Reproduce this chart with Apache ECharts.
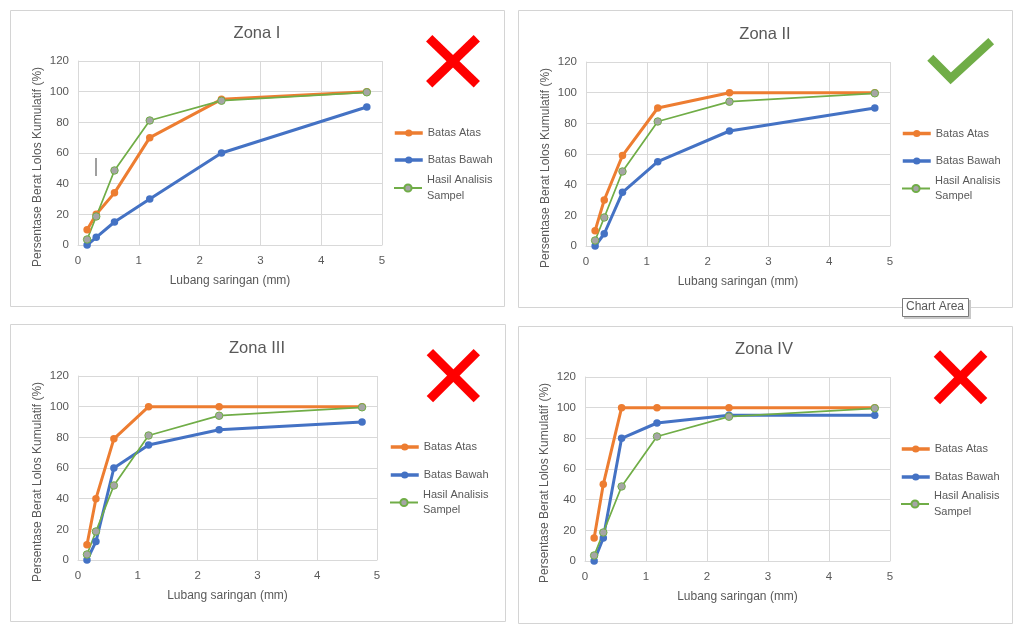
<!DOCTYPE html>
<html>
<head>
<meta charset="utf-8">
<script src="https://cdn.jsdelivr.net/npm/echarts@6/dist/echarts.min.js"></script>
<style>
html,body{margin:0;padding:0;background:#fff;}
#chart{width:1024px;height:632px;}
</style>
</head>
<body>
<div id="chart"></div>
<script>
// ---- data ----
var sieveSizes = [0.15, 0.3, 0.6, 1.18, 2.36, 4.75];
var zoneTitles = ['Zona I', 'Zona II', 'Zona III', 'Zona IV'];
var seriesNames = ['Batas Atas', 'Batas Bawah', 'Hasil Analisis Sampel'];
var zone1Upper = [10, 20, 34, 70, 95, 100];
var zone1Lower = [0, 5, 15, 30, 60, 90];
var zone2Upper = [10, 30, 59, 90, 100, 100];
var zone2Lower = [0, 8, 35, 55, 75, 90];
var zone3Upper = [10, 40, 79, 100, 100, 100];
var zone3Lower = [0, 12, 60, 75, 85, 90];
var zone4Upper = [15, 50, 100, 100, 100, 100];
var zone4Lower = [0, 15, 80, 90, 95, 95];
var sampleValues = [3.6, 18.6, 48.6, 81.2, 94.1, 99.6];
var xTicks = { min: 0, max: 5, interval: 1 };
var yTicks = { min: 0, max: 120, interval: 20 };
var xAxisTitle = 'Lubang saringan (mm)';
var yAxisTitle = 'Persentase Berat Lolos Kumulatif (%)';
var verdicts = ['wrong', 'right', 'wrong', 'wrong'];

// ---- layout / style ----
var FONT = 'Liberation Sans, Arial, sans-serif';
var TXT = '#595959';
var GRIDC = '#D9D9D9';
var panels = [
  { box: [10.5, 10.5, 494, 296], grid: [78, 61, 304, 184], title: [257, 33], leg: [393, 133, 160, 188], mark: [426, 35, 480, 87.5] },
  { box: [518.5, 10.5, 494, 297], grid: [586, 62, 304, 184], title: [765, 34], leg: [901, 133.5, 161, 188.5], mark: null },
  { box: [10.5, 324.5, 495, 297], grid: [78, 376, 299, 184], title: [257, 348], leg: [389, 447, 475, 502.5], mark: [426.7, 349, 480, 402.3] },
  { box: [518.5, 326.5, 494, 297], grid: [585, 377, 305, 184], title: [764, 349], leg: [900, 449, 477, 504], mark: [933.7, 350.3, 987.3, 404.3] }
];
var upperSets = [zone1Upper, zone2Upper, zone3Upper, zone4Upper];
var lowerSets = [zone1Lower, zone2Lower, zone3Lower, zone4Lower];

function pairs(vals) {
  return sieveSizes.map(function (x, i) { return [x, vals[i]]; });
}

var option = {
  animation: false,
  backgroundColor: '#fff',
  textStyle: { fontFamily: FONT },
  title: [], grid: [], xAxis: [], yAxis: [], legend: [], series: [], graphic: []
};

panels.forEach(function (p, i) {
  option.graphic.push({
    type: 'rect', z: -10, silent: true,
    shape: { x: p.box[0], y: p.box[1], width: p.box[2], height: p.box[3] },
    style: { fill: '#fff', stroke: '#D4D4D4', lineWidth: 1 }
  });
  option.title.push({
    text: zoneTitles[i], left: p.title[0], top: p.title[1] - 9.5, textAlign: 'center', padding: 0,
    textStyle: { fontFamily: FONT, fontSize: 16.5, fontWeight: 'normal', color: TXT, lineHeight: 19 }
  });
  option.grid.push({ left: p.grid[0], top: p.grid[1], width: p.grid[2], height: p.grid[3], containLabel: false });
  option.xAxis.push({
    type: 'value', gridIndex: i, min: xTicks.min, max: xTicks.max, interval: xTicks.interval,
    name: xAxisTitle, nameLocation: 'middle', nameGap: 30,
    nameTextStyle: { fontFamily: FONT, fontSize: 12, color: TXT },
    axisLine: { show: true, lineStyle: { color: GRIDC, width: 1 } },
    axisTick: { show: false },
    axisLabel: { fontFamily: FONT, fontSize: 11.5, color: TXT, margin: 10 },
    splitLine: { show: true, lineStyle: { color: GRIDC, width: 1 } }
  });
  option.yAxis.push({
    type: 'value', gridIndex: i, min: yTicks.min, max: yTicks.max, interval: yTicks.interval,
    name: yAxisTitle, nameLocation: 'middle', nameGap: 34,
    nameTextStyle: { fontFamily: FONT, fontSize: 12, color: TXT, padding: [0, 28, 0, 0] },
    axisLine: { show: true, lineStyle: { color: GRIDC, width: 1 } },
    axisTick: { show: false },
    axisLabel: { fontFamily: FONT, fontSize: 11.5, color: TXT, margin: 9 },
    splitLine: { show: true, lineStyle: { color: GRIDC, width: 1 } }
  });
  option.legend.push({
    orient: 'vertical', left: p.leg[0], top: p.leg[1] - 7, padding: 0,
    itemWidth: 28, itemHeight: 9, itemGap: (p.leg[2] - p.leg[1]) - 14,
    selectedMode: false,
    lineStyle: { width: 3.5 },
    data: [seriesNames[0], seriesNames[1]],
    textStyle: { fontFamily: FONT, fontSize: 11, color: TXT, lineHeight: 14 }
  });
  option.legend.push({
    orient: 'vertical', left: p.leg[0], top: p.leg[3] - 23.25, padding: 0,
    itemWidth: 28, itemHeight: 9, selectedMode: false,
    lineStyle: { width: 2 },
    data: [{ name: seriesNames[2], textStyle: { padding: [15.5, 0, 0, 0] } }],
    formatter: function (n) { return 'Hasil Analisis\nSampel'; },
    textStyle: { fontFamily: FONT, fontSize: 11, color: TXT, lineHeight: 15.5 }
  });
  option.series.push({
    name: seriesNames[0], type: 'line', xAxisIndex: i, yAxisIndex: i,
    data: pairs(upperSets[i]), symbol: 'circle', symbolSize: 7.5, showSymbol: true,
    lineStyle: { color: '#ED7D31', width: 3 }, itemStyle: { color: '#ED7D31' }
  });
  option.series.push({
    name: seriesNames[1], type: 'line', xAxisIndex: i, yAxisIndex: i,
    data: pairs(lowerSets[i]), symbol: 'circle', symbolSize: 7.5, showSymbol: true,
    lineStyle: { color: '#4472C4', width: 3 }, itemStyle: { color: '#4472C4' }
  });
  option.series.push({
    name: seriesNames[2], type: 'line', xAxisIndex: i, yAxisIndex: i,
    data: pairs(sampleValues), symbol: 'circle', symbolSize: 7.5, showSymbol: true,
    lineStyle: { color: '#70AD47', width: 1.75 },
    itemStyle: { color: '#A5A5A5', borderColor: '#70AD47', borderWidth: 1 }
  });
  if (verdicts[i] === 'wrong' && p.mark) {
    var m = p.mark, w = 9, d = w / (2 * Math.SQRT2);
    option.graphic.push({ type: 'line', silent: true, z: 10,
      shape: { x1: m[0] + d, y1: m[1] + d, x2: m[2] - d, y2: m[3] - d },
      style: { stroke: '#FF0000', lineWidth: w, lineCap: 'butt' } });
    option.graphic.push({ type: 'line', silent: true, z: 10,
      shape: { x1: m[2] - d, y1: m[1] + d, x2: m[0] + d, y2: m[3] - d },
      style: { stroke: '#FF0000', lineWidth: w, lineCap: 'butt' } });
  }
});

// check mark for Zona II
option.graphic.push({ type: 'polyline', silent: true, z: 10,
  shape: { points: [[930.3, 57.7], [950.7, 78.3], [991.2, 41.2]] },
  style: { stroke: '#70AD47', lineWidth: 8.5, lineJoin: 'miter', lineCap: 'butt', fill: null } });

// small cursor mark in Zona I
option.graphic.push({ type: 'line', silent: true, z: 10,
  shape: { x1: 96, y1: 158, x2: 96, y2: 176 },
  style: { stroke: '#7F7F7F', lineWidth: 1.5 } });

// "Chart Area" tooltip
option.graphic.push({ type: 'rect', silent: true, z: 20,
  shape: { x: 904, y: 300, width: 67, height: 19 }, style: { fill: '#C8C8C8' } });
option.graphic.push({ type: 'rect', silent: true, z: 21,
  shape: { x: 902.5, y: 298.5, width: 66, height: 18 }, style: { fill: '#fff', stroke: '#7A7A7A', lineWidth: 1 } });
option.graphic.push({ type: 'text', silent: true, z: 22, left: 906, top: 300.5,
  style: { text: 'Chart Area', fontFamily: FONT, fontSize: 12, fill: '#595959' } });

var chart = echarts.init(document.getElementById('chart'), null, { renderer: 'canvas' });
chart.setOption(option);
</script>
</body>
</html>
